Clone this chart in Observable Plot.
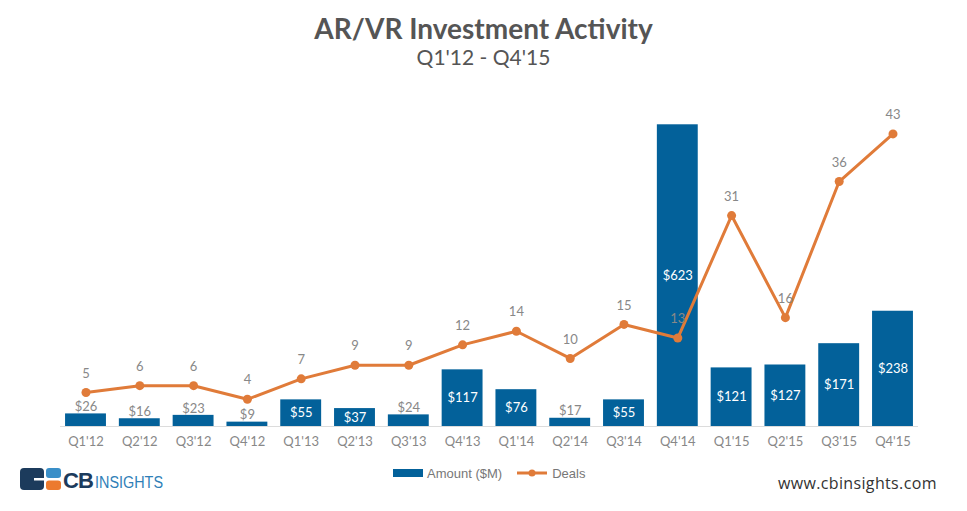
<!DOCTYPE html>
<html>
<head>
<meta charset="utf-8">
<script src="https://cdn.jsdelivr.net/npm/d3@7"></script>
<script src="https://cdn.jsdelivr.net/npm/@observablehq/plot@0.6"></script>
<style>
  html, body { margin: 0; padding: 0; background: #fff; }
  #wrap { position: relative; width: 967px; height: 511px; overflow: hidden; font-family: Lato, "Open Sans", sans-serif; }
  #title { position: absolute; top: 11px; left: 0; width: 967px; text-align: center; font-size: 28px; font-weight: 700; color: #555; }
  #subtitle { position: absolute; top: 44px; left: 0; width: 967px; text-align: center; font-size: 21px; color: #555; }
  #chart { position: absolute; top: 80px; left: 0; }
  #legend { position: absolute; top: 465px; left: 393px; font-family: "Liberation Sans", Arial, sans-serif; font-size: 13px; color: #777; display: flex; align-items: center; }
  #url { position: absolute; top: 472px; left: 778px; font-family: "Open Sans", sans-serif; font-size: 16px; letter-spacing: 0.35px; color: #333; }
  #logo { position: absolute; top: 462px; left: 18px; overflow: visible; }
</style>
</head>
<body>
<div id="wrap">
  <div id="title">AR/VR Investment Activity</div>
  <div id="subtitle">Q1'12 - Q4'15</div>
  <div id="chart"></div>
  <div id="legend">
    <svg width="31" height="16"><rect x="0" y="4" width="30" height="8" fill="#03619a"></rect></svg>
    <span style="margin-left:3px">Amount ($M)</span>
    <svg width="34" height="16" style="margin-left:14px"><line x1="1" y1="8" x2="31" y2="8" stroke="#e07b39" stroke-width="3"></line><circle cx="16" cy="8" r="3.5" fill="#e07b39"></circle></svg>
    <span style="margin-left:2px">Deals</span>
  </div>
  <svg id="logo" width="160" height="34">
    <rect x="2" y="6" width="24" height="22" rx="4" fill="#1c3b5c"></rect>
    <rect x="16" y="16" width="12" height="2.5" fill="#fff"></rect>
    <rect x="26" y="6" width="2" height="22" fill="#fff"></rect>
    <rect x="28" y="6" width="15" height="10" rx="3" fill="#3a8fc8"></rect>
    <rect x="28" y="18.5" width="15" height="9.5" rx="3" fill="#ec7a2e"></rect>
    <text x="45" y="26" font-family="Liberation Sans, Arial, sans-serif" font-weight="700" font-size="22" fill="#1c3b5c" letter-spacing="-1">CB</text>
    <text x="77" y="26" font-family="Liberation Sans Narrow, Liberation Sans, Arial, sans-serif" font-size="16" fill="#2f7fb8" textLength="68" lengthAdjust="spacingAndGlyphs">INSIGHTS</text>
  </svg>
  <div id="url">www.cbinsights.com</div>
</div>
<script>
const quarters = ["Q1'12","Q2'12","Q3'12","Q4'12","Q1'13","Q2'13","Q3'13","Q4'13","Q1'14","Q2'14","Q3'14","Q4'14","Q1'15","Q2'15","Q3'15","Q4'15"];
const amounts = [26,16,23,9,55,37,24,117,76,17,55,623,121,127,171,238];
const deals = [5,6,6,4,7,9,9,12,14,10,15,13,31,16,36,43];

const data = quarters.map((q, i) => ({q, amount: amounts[i], deals: deals[i]}));
const K = 14.05; // deals drawn on a secondary scale sharing the same axis
const BLUE = "#03619a", ORANGE = "#e07b39", GREY = "#888";

const chart = Plot.plot({
  width: 967,
  height: 370,
  marginTop: 7,
  marginBottom: 24,
  marginLeft: 60,
  marginRight: 49,
  style: {fontFamily: "Lato, 'Open Sans', sans-serif", fontSize: "13px", background: "transparent"},
  x: {domain: quarters, paddingInner: 0.24, paddingOuter: 0.094, round: false, label: null},
  y: {domain: [0, 700], axis: null},
  marks: [
    Plot.barY(data, {x: "q", y: "amount", fill: BLUE}),
    Plot.ruleY([0], {stroke: "#dcdcdc", strokeWidth: 1}),
    Plot.axisX({tickSize: 0, tickPadding: 10, fontSize: 13, color: GREY, label: null}),
    Plot.text(data.filter(d => d.amount >= 30), {x: "q", y: d => d.amount / 2, text: d => "$" + d.amount, fill: "#fff", fontSize: 13}),
    Plot.text(data.filter(d => d.amount < 30), {x: "q", y: "amount", text: d => "$" + d.amount, fill: GREY, fontSize: 13, dy: -7}),
    Plot.line(data, {x: "q", y: d => d.deals * K, stroke: ORANGE, strokeWidth: 3}),
    Plot.dot(data, {x: "q", y: d => d.deals * K, r: 4.5, fill: ORANGE}),
    Plot.text(data, {x: "q", y: d => d.deals * K, text: d => String(d.deals), fill: GREY, fontSize: 13, dy: -19})
  ]
});
document.getElementById("chart").appendChild(chart);
</script>
</body>
</html>
